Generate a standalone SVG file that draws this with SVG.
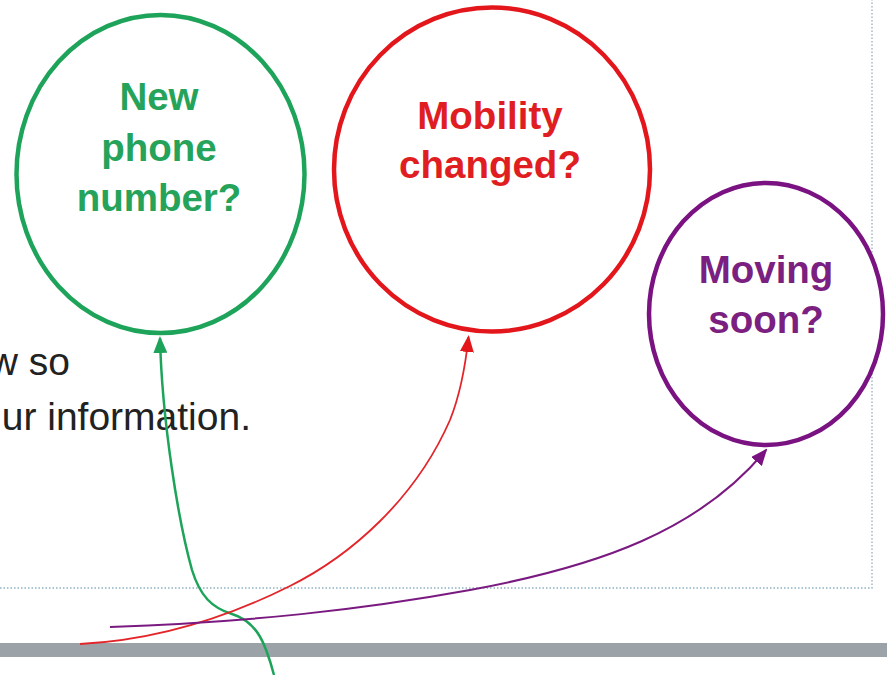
<svg xmlns="http://www.w3.org/2000/svg" width="887" height="675" viewBox="0 0 887 675">
  <style>
    .lbl { font-family: "Liberation Sans", Arial, sans-serif; font-weight: bold; font-size: 38.5px; text-anchor: middle; }
    .body { font-family: "Liberation Sans", Arial, sans-serif; font-size: 39px; fill: #222222; text-anchor: end; }
    .ring { fill: #ffffff; stroke-width: 4.5; }
    .conn { fill: none; }
    .dots { stroke: #8fb0c2; stroke-width: 1.3; stroke-dasharray: 1.5 2; fill: none; }
  </style>
  <defs>
    <marker id="ahG" viewBox="0 0 17 14" refX="15" refY="7" markerWidth="17" markerHeight="14" markerUnits="userSpaceOnUse" orient="auto">
      <path d="M0,0 L17,7 L0,14 z" fill="#1ea45a"/>
    </marker>
    <marker id="ahR" viewBox="0 0 17 14" refX="15" refY="7" markerWidth="17" markerHeight="14" markerUnits="userSpaceOnUse" orient="auto">
      <path d="M0,0 L17,7 L0,14 z" fill="#e3161c"/>
    </marker>
    <marker id="ahP" viewBox="0 0 17 14" refX="15" refY="7" markerWidth="17" markerHeight="14" markerUnits="userSpaceOnUse" orient="auto">
      <path d="M0,0 L17,7 L0,14 z" fill="#7a1282"/>
    </marker>
  </defs>
  <rect x="0" y="0" width="887" height="675" fill="#ffffff"/>

  <!-- slide frame -->
  <g id="frame">
    <path class="dots" d="M0 588 H872 V0"/>
    <rect x="0" y="643" width="887" height="14" fill="#9ba3a9"/>
  </g>

  <!-- body text -->
  <g id="body-text">
    <text class="body" x="70" y="375">w so</text>
    <text class="body" x="251" y="430">ur information.</text>
  </g>

  <g id="node-phone">
    <ellipse class="ring" cx="160.5" cy="174" rx="144" ry="159" stroke="#1ea45a"/>
    <text class="lbl" fill="#25a35a" x="159" y="110">New</text>
    <text class="lbl" fill="#25a35a" x="159" y="161">phone</text>
    <text class="lbl" fill="#25a35a" x="159" y="211">number?</text>
  </g>

  <g id="node-mobility">
    <ellipse class="ring" cx="492" cy="169.5" rx="158" ry="162" stroke="#e3161c"/>
    <text class="lbl" fill="#e01e22" x="490" y="129">Mobility</text>
    <text class="lbl" fill="#e01e22" x="490" y="178">changed?</text>
  </g>

  <g id="node-moving">
    <ellipse class="ring" cx="766" cy="314" rx="117" ry="131" stroke="#7a1282"/>
    <text class="lbl" fill="#7b1f80" x="766" y="283">Moving</text>
    <text class="lbl" fill="#7b1f80" x="766" y="333">soon?</text>
  </g>

  <g id="connectors">
    <path class="conn" stroke="#1ea45a" stroke-width="2.5" marker-end="url(#ahG)"
          d="M274 675 C266 645 258 622 232 614 C212 608 200 596 192 570 C178 520 162 420 160 338"/>
    <path class="conn" stroke="#e3252a" stroke-width="1.8" marker-end="url(#ahR)"
          d="M80 644 C160 640 230 616 290 586 C350 556 415 500 450 420 C458 400 465 370 468.5 337"/>
    <path class="conn" stroke="#7a1a80" stroke-width="2" marker-end="url(#ahP)"
          d="M110 627 C250 622 360 610 470 590 C600 566 700 530 766 450"/>
  </g>
</svg>
